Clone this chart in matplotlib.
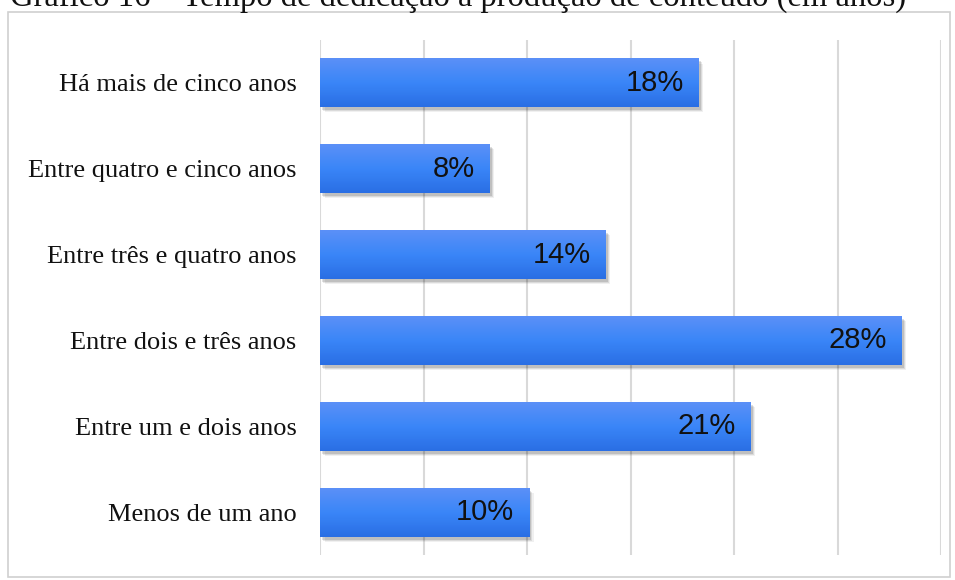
import matplotlib
matplotlib.use("Agg")
import matplotlib.pyplot as plt
import numpy as np
from matplotlib.patches import Rectangle
from matplotlib.colors import LinearSegmentedColormap

categories = ["Há mais de cinco anos", "Entre quatro e cinco anos",
              "Entre três e quatro anos", "Entre dois e três anos",
              "Entre um e dois anos", "Menos de um ano"]
values = [18.3, 8.2, 13.8, 28.1, 20.8, 10.1]
labels = ["18%", "8%", "14%", "28%", "21%", "10%"]
title = "Gráfico 16 – Tempo de dedicação à produção de conteúdo (em anos)"

W, H = 955, 580
fig = plt.figure(figsize=(W / 100, H / 100), dpi=100)
ax = fig.add_axes([320 / W, 1 - 555 / H, (941 - 320) / W, (555 - 40) / H])

# outer frame + caption cut by the top edge, as in the source scan
fig.patches.append(Rectangle((8 / W, 1 - 577 / H), 942 / W, 565 / H,
                             transform=fig.transFigure, fill=False,
                             edgecolor="#d0d0d0", lw=1.2))
fig.text(10 / W, 1 - 6 / H, title, family="Liberation Serif", fontsize=23.5,
         va="baseline", ha="left", color="#111111")

y = np.arange(len(categories))
h = 0.57
cmap = LinearSegmentedColormap.from_list("bar", ["#5b90f7", "#3a86f8", "#2a6ee4"])
grad = np.linspace(0, 1, 64).reshape(-1, 1)

# soft shadow
for k, a in enumerate([0.12, 0.09, 0.06]):
    ax.barh(y + 0.035 + k * 0.012, values, height=h, left=0.1 + k * 0.06,
            color="#000000", alpha=a, zorder=2, lw=0)

bars = ax.barh(y, values, height=h, color="#3a86f8", zorder=3, lw=0)
for b in bars:
    x0, y0 = b.get_x(), b.get_y()
    im = ax.imshow(grad, cmap=cmap, aspect="auto", zorder=4,
                   extent=[x0, x0 + b.get_width(), y0 + b.get_height(), y0])
    im.set_clip_path(b)

for yi, v, lab in zip(y, values, labels):
    ax.text(v - 0.72, yi, lab, ha="right", va="center", fontsize=21,
            family="Liberation Sans", color="#111111", zorder=5)

ax.set_xlim(0, 30)
ax.set_ylim(len(categories) - 0.5, -0.5)
ax.set_xticks(np.arange(0, 31, 5))
ax.set_xticklabels([])
ax.set_yticks(y)
ax.set_yticklabels(categories, family="Liberation Serif", fontsize=19, color="#111111")
ax.tick_params(length=0, pad=17)
ax.grid(axis="x", color="#d9d9d9", lw=1.5, zorder=0)
ax.set_axisbelow(True)
for s in ax.spines.values():
    s.set_visible(False)

fig.savefig("out.png", dpi=100)
